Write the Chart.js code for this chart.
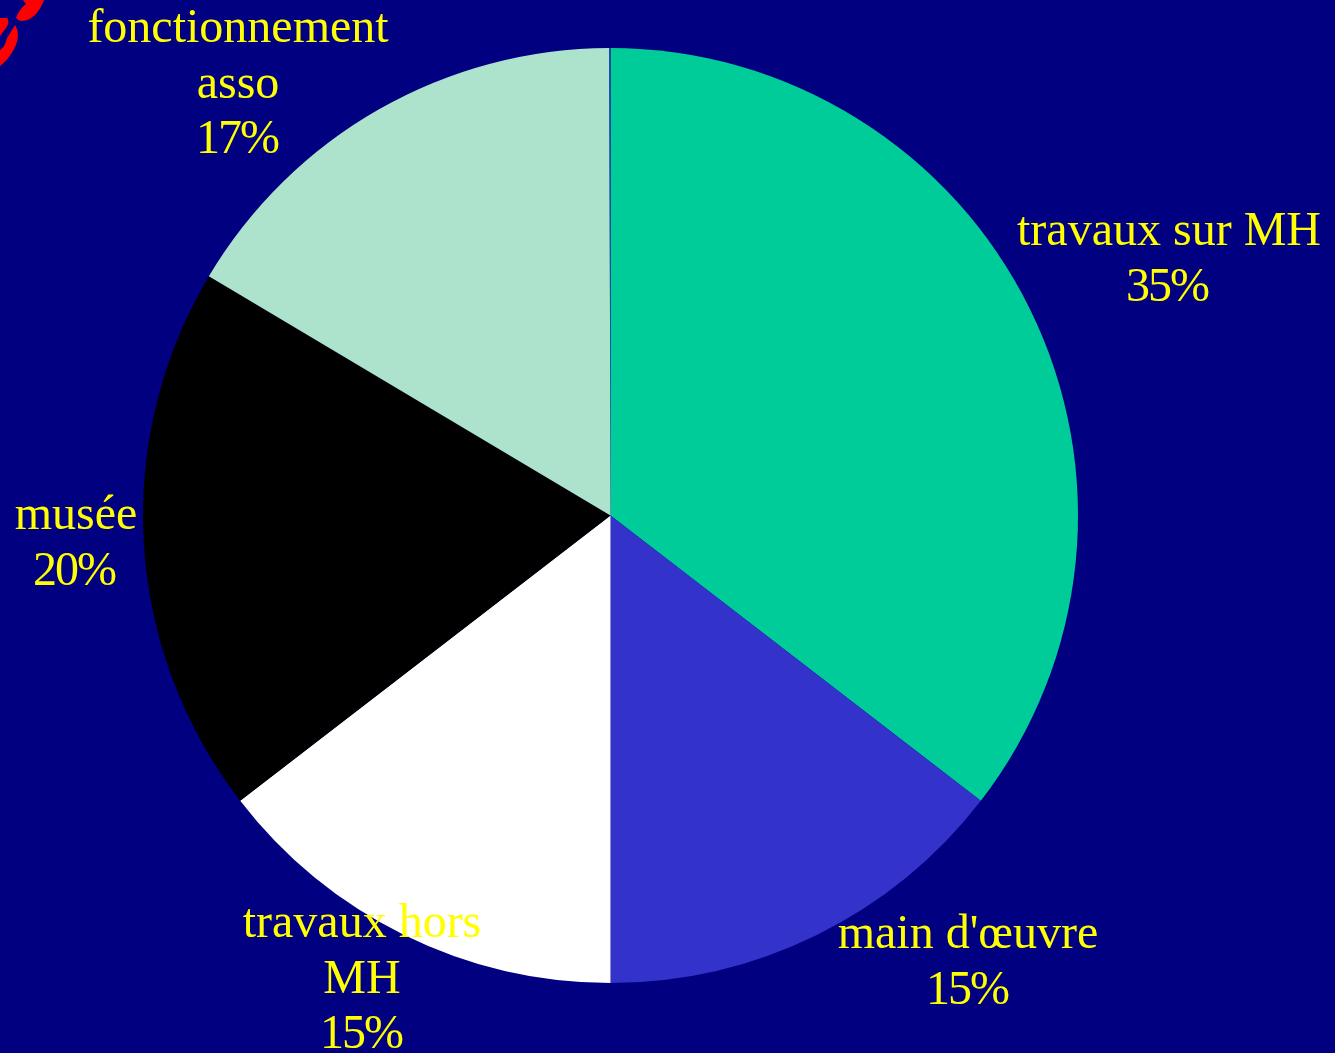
<!DOCTYPE html>
<html>
<head>
<meta charset="utf-8">
<style>html,body{margin:0;padding:0;background:#000080;overflow:hidden}canvas{display:block}</style>
<script src="https://cdn.jsdelivr.net/npm/chart.js@4"></script>
</head>
<body>
<canvas id="c" width="1335" height="1053"></canvas>
<script>
const categories = ["travaux sur MH", "main d'œuvre", "travaux hors MH", "musée", "fonctionnement asso", "autre"];
const values = [35.45, 14.55, 14.55, 19.0, 16.41, 0.04];
const sliceColors = ["#00CC99", "#3333CC", "#FFFFFF", "#000000", "#ADE2CC", "#2040B0"];
const labelLines = [
  ["travaux sur MH"],
  ["main d'œuvre"],
  ["travaux hors", "MH"],
  ["musée"],
  ["fonctionnement", "asso"]
];
const percentLabels = ["35%", "15%", "15%", "20%", "17%"];
const labelCenterX = [1169, 968, 362, 76, 238];
const percentCenterX = [1167, 967, 361, 74, 237];
const labelFirstBaseline = [245, 948, 937, 529, 42];
const lineStep = 55.7;

const backdrop = {
  id: "backdrop",
  beforeDraw(chart) {
    const g = chart.ctx;
    g.save();
    g.fillStyle = "#000080";
    g.fillRect(0, 0, chart.width, chart.height);
    g.fillStyle = "#FF0000";
    g.beginPath();
    g.moveTo(44, 0);
    g.bezierCurveTo(40, 11, 32, 21, 22, 21);
    g.bezierCurveTo(20, 21, 18, 20, 16, 18);
    g.bezierCurveTo(18, 12, 22, 7, 26, 4);
    g.lineTo(23, 0);
    g.closePath();
    g.fill();
    g.beginPath();
    g.moveTo(0, 18);
    g.lineTo(7, 18);
    g.bezierCurveTo(9, 20, 9, 24, 6, 28);
    g.lineTo(0, 36);
    g.closePath();
    g.fill();
    g.beginPath();
    g.moveTo(15, 25);
    g.bezierCurveTo(19, 31, 19, 40, 14, 49);
    g.bezierCurveTo(10, 57, 4, 63, 0, 66);
    g.lineTo(0, 50);
    g.bezierCurveTo(4, 48, 6, 42, 7, 38);
    g.closePath();
    g.fill();
    g.restore();
  }
};

const sliceLabels = {
  id: "sliceLabels",
  afterDraw(chart) {
    const g = chart.ctx;
    g.save();
    g.fillStyle = "#FFFF00";
    g.font = "48px 'Liberation Serif'";
    g.textAlign = "center";
    g.textBaseline = "alphabetic";
    labelLines.forEach((lines, i) => {
      lines.forEach((line, k) => {
        g.fillText(line, labelCenterX[i], labelFirstBaseline[i] + k * lineStep);
      });
      g.letterSpacing = "-2px";
      g.fillText(percentLabels[i], percentCenterX[i], labelFirstBaseline[i] + lines.length * lineStep);
      g.letterSpacing = "0px";
    });
    g.restore();
  }
};

new Chart(document.getElementById("c"), {
  type: "pie",
  data: {
    labels: categories,
    datasets: [{ data: values, backgroundColor: sliceColors, borderWidth: 0, hoverOffset: 0 }]
  },
  options: {
    responsive: false,
    animation: false,
    layout: { padding: { left: 143, right: 257, top: 48, bottom: 70 } },
    plugins: { legend: { display: false }, tooltip: { enabled: false } }
  },
  plugins: [backdrop, sliceLabels]
});
</script>
</body>
</html>
